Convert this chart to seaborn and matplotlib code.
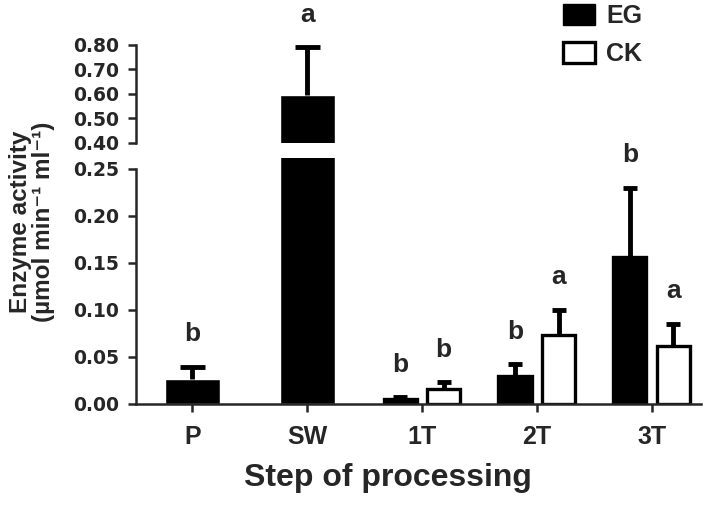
import pandas as pd
import seaborn as sns
import matplotlib.pyplot as plt
from matplotlib.patches import Patch

# categories on the x axis
steps = ["P", "SW", "1T", "2T", "3T"]

# steps with one bar only (EG)
single_steps = ["P", "SW"]
single_mean = [0.027, 0.594]
single_err = [0.012, 0.196]
single_letters = ["b", "a"]

# steps with EG and CK side by side
group_steps = ["1T", "1T", "2T", "2T", "3T", "3T"]
group_names = ["EG", "CK", "EG", "CK", "EG", "CK"]
group_mean = [0.005, 0.016, 0.030, 0.073, 0.156, 0.062]
group_err = [0.002, 0.007, 0.012, 0.027, 0.074, 0.023]
group_letters = ["b", "b", "b", "a", "b", "a"]

sns.set_style("ticks")
plt.rcParams["font.family"] = ["Liberation Sans", "DejaVu Sans"]
plt.rcParams["font.weight"] = "bold"

df_single = pd.DataFrame({"step": single_steps, "value": single_mean})
df_group = pd.DataFrame({"step": group_steps, "group": group_names, "value": group_mean})

fig = plt.figure(figsize=(7.09, 5.22), dpi=100)
ax_lo = fig.add_axes([0.1918, 0.2261, 0.797, 0.472])
ax_hi = fig.add_axes([0.1918, 0.7261, 0.797, 0.1877], sharex=ax_lo)

dodge_off = 0.19


def add_err(ax, x, m, e, cap):
    _, caps, _ = ax.errorbar(x, m, yerr=[[0], [e]], fmt="none", ecolor="black",
                             elinewidth=3.5, capsize=cap, capthick=3.5)
    caps[0].set_visible(False)  # only the upper cap


def draw(ax):
    sns.barplot(data=df_single, x="step", y="value", order=steps, color="black",
                width=0.48, errorbar=None, ax=ax, saturation=1)
    sns.barplot(data=df_group, x="step", y="value", hue="group", order=steps,
                hue_order=["EG", "CK"], palette={"EG": "black", "CK": "white"},
                edgecolor="black", linewidth=2.4, width=0.76, gap=0.24,
                errorbar=None, ax=ax, legend=False, saturation=1)
    for s, m, e in zip(single_steps, single_mean, single_err):
        add_err(ax, steps.index(s), m, e, 9)
    for s, g, m, e in zip(group_steps, group_names, group_mean, group_err):
        x = steps.index(s) + (-dodge_off if g == "EG" else dodge_off)
        add_err(ax, x, m, e, 5)


draw(ax_lo)
draw(ax_hi)

# letters above the bars
lt = dict(ha="center", va="bottom", fontsize=19, fontweight="bold",
          textcoords="offset points", annotation_clip=False)
for s, m, e, l in zip(single_steps, single_mean, single_err, single_letters):
    ax = ax_hi if m + e > 0.4 else ax_lo
    ax.annotate(l, (steps.index(s), m + e), xytext=(0, 15), **lt)
for s, g, m, e, l in zip(group_steps, group_names, group_mean, group_err, group_letters):
    x = steps.index(s) + (-dodge_off if g == "EG" else dodge_off)
    ax_lo.annotate(l, (x, m + e), xytext=(0, 15), **lt)

tick_font = dict(family="DejaVu Sans", fontweight="bold", fontsize=13.5)

# lower segment
lo_ticks = [0, 0.05, 0.10, 0.15, 0.20, 0.25]
ax_lo.set_ylim(0, 0.262)
ax_lo.set_xlim(-0.49, 4.43)
ax_lo.set_yticks(lo_ticks)
ax_lo.set_yticklabels([f"{v:.2f}" for v in lo_ticks], **tick_font)
ax_lo.spines["left"].set_bounds(0, 0.25)
for sp in ["top", "right"]:
    ax_lo.spines[sp].set_visible(False)
for sp in ["left", "bottom"]:
    ax_lo.spines[sp].set_linewidth(1.8)
ax_lo.tick_params(axis="both", length=6, width=1.8, pad=6)
ax_lo.tick_params(axis="x", pad=9, labelsize=18)
ax_lo.set_xlabel("Step of processing", fontsize=23, fontweight="bold")
ax_lo.xaxis.set_label_coords(0.445, -0.24)
ax_lo.set_ylabel("")

# upper segment
hi_ticks = [0.4, 0.5, 0.6, 0.7, 0.8]
ax_hi.set_ylim(0.40, 0.80)
ax_hi.set_yticks(hi_ticks)
ax_hi.set_yticklabels([f"{v:.2f}" for v in hi_ticks], **tick_font)
ax_hi.spines["left"].set_linewidth(1.8)
for sp in ["top", "right", "bottom"]:
    ax_hi.spines[sp].set_visible(False)
ax_hi.tick_params(axis="y", length=6, width=1.8, pad=6)
ax_hi.tick_params(axis="x", bottom=False, labelbottom=False)
ax_hi.set_xlabel("")
ax_hi.set_ylabel("")

fig.text(0.045, 0.575, "Enzyme activity\n(\u00b5mol min\u207b\u00b9 ml\u207b\u00b9)",
         rotation=90, ha="center", va="center", fontsize=17.5, fontweight="bold",
         linespacing=1.0)

handles = [Patch(facecolor="black", edgecolor="black"),
           Patch(facecolor="white", edgecolor="black", linewidth=2.4)]
fig.legend(handles, ["EG", "CK"], loc="upper left", bbox_to_anchor=(0.776, 1.016),
           frameon=False, borderpad=0, handlelength=1.3, handleheight=0.9,
           handletextpad=0.45, labelspacing=0.55,
           prop={"size": 18, "weight": "bold"})

fig.savefig("out.png", dpi=100)
